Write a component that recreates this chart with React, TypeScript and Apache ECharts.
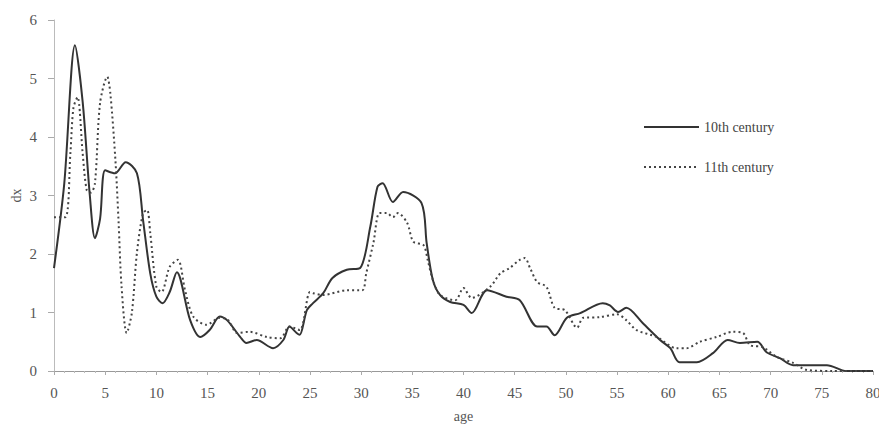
import React, { useEffect, useRef } from "react";
import * as echarts from "echarts";

const ages10 = [0, 1, 2.05, 2.8, 3.5, 4.0, 4.5, 5.0, 5.95, 7.0, 8.1, 8.7, 9.4, 10.0, 10.6, 11.3, 12.0, 13.3, 14.3, 15.2, 16.2, 16.9, 18.2, 18.8, 19.8, 21.4, 22.4, 23.0, 23.7, 24.0, 24.7, 25.3, 26.3, 27.2, 28.6, 29.9, 30.9, 31.6, 32.1, 33.1, 34.1, 35.9, 36.4, 37.0, 37.7, 38.7, 40.0, 40.8, 42.3, 44.2, 45.5, 47.2, 48.1, 48.9, 50.1, 51.4, 53.6, 54.3, 55.1, 55.9, 57.5, 59.2, 60.2, 61.1, 62.8, 64.4, 65.8, 67.0, 68.7, 69.6, 70.9, 72.2, 75.5, 77.4, 80];
const dx10 = [1.76, 3.2, 5.57, 4.6, 3.0, 2.27, 2.6, 3.43, 3.38, 3.57, 3.38, 2.58, 1.67, 1.27, 1.16, 1.35, 1.69, 0.87, 0.58, 0.7, 0.93, 0.87, 0.58, 0.48, 0.53, 0.39, 0.53, 0.76, 0.65, 0.62, 1.04, 1.16, 1.33, 1.59, 1.73, 1.76, 2.47, 3.15, 3.21, 2.89, 3.06, 2.87, 2.19, 1.56, 1.3, 1.18, 1.13, 0.99, 1.38, 1.27, 1.21, 0.76, 0.76, 0.61, 0.91, 0.99, 1.16, 1.12, 1.01, 1.08, 0.82, 0.53, 0.39, 0.15, 0.15, 0.31, 0.53, 0.48, 0.5, 0.32, 0.22, 0.1, 0.1, 0, 0];

const ages11 = [0, 1.1, 1.6, 1.9, 2.3, 2.8, 3.2, 3.6, 4.0, 4.5, 5.2, 5.5, 6.0, 6.3, 6.6, 7.1, 7.6, 8.1, 8.7, 9.1, 9.4, 10.0, 10.5, 11.3, 12.1, 12.8, 13.6, 14.9, 16.2, 17.0, 17.9, 19.1, 20.8, 22.1, 23.0, 24.0, 25.0, 25.3, 26.3, 28.6, 30.1, 30.5, 31.2, 31.8, 32.5, 33.1, 33.6, 34.5, 35.1, 36.1, 36.5, 37.0, 37.7, 39.2, 40.0, 40.8, 42.6, 43.6, 44.5, 45.5, 46.0, 46.5, 47.2, 48.1, 48.9, 49.9, 51.1, 51.7, 53.3, 55.0, 55.9, 56.9, 58.9, 60.8, 61.8, 63.1, 64.7, 66.3, 67.3, 68.0, 69.2, 70.6, 72.2, 73.5, 76.1, 80];
const dx11 = [2.63, 2.63, 3.72, 4.5, 4.68, 3.72, 3.09, 3.05, 3.21, 4.58, 5.03, 4.75, 3.6, 2.58, 1.44, 0.65, 0.99, 2.02, 2.7, 2.75, 2.36, 1.44, 1.35, 1.78, 1.9, 1.38, 0.93, 0.79, 0.91, 0.87, 0.65, 0.67, 0.58, 0.56, 0.76, 0.7, 1.35, 1.33, 1.3, 1.38, 1.38, 1.67, 2.19, 2.7, 2.7, 2.63, 2.7, 2.53, 2.21, 2.15, 1.9, 1.56, 1.3, 1.21, 1.42, 1.25, 1.44, 1.67, 1.76, 1.9, 1.93, 1.76, 1.52, 1.44, 1.08, 1.04, 0.74, 0.91, 0.92, 0.97, 0.87, 0.7, 0.58, 0.39, 0.39, 0.5, 0.58, 0.67, 0.65, 0.44, 0.41, 0.24, 0.14, 0.02, 0, 0];

const seriesNames = ["10th century", "11th century"];
const xTicks = [0, 5, 10, 15, 20, 25, 30, 35, 40, 45, 50, 55, 60, 65, 70, 75, 80];
const yTicks = [0, 1, 2, 3, 4, 5, 6];

const FONT = "Liberation Serif";

export default function App() {
  const ref = useRef<HTMLDivElement>(null);
  useEffect(() => {
    if (!ref.current) return;
    const chart = echarts.init(ref.current, null, { renderer: "svg" });
    const pairs = (xs: number[], ys: number[]) => xs.map((x, i) => [x, ys[i]]);
    chart.setOption({
      animation: false,
      backgroundColor: "#fff",
      grid: { left: 46, right: 6, top: 12, bottom: 58, outerBoundsMode: "none", containLabel: false },
      legend: {
        orient: "vertical",
        left: 630,
        top: 107,
        itemWidth: 55,
        itemHeight: 10,
        itemGap: 26,
        itemStyle: { color: "transparent", borderWidth: 0, opacity: 0 },
        textStyle: { fontFamily: FONT, fontSize: 14, color: "#444" },
        data: seriesNames,
      },
      xAxis: {
        type: "value",
        min: xTicks[0],
        max: xTicks[xTicks.length - 1],
        interval: 5,
        name: "age",
        nameLocation: "middle",
        nameGap: 38,
        nameMoveOverlap: false,
        nameTextStyle: { fontFamily: FONT, fontSize: 14, color: "#555" },
        axisLine: { lineStyle: { color: "#999", width: 1 } },
        axisTick: { show: true, length: 4, lineStyle: { color: "#aaa" } },
        minorTick: { show: true, splitNumber: 5, length: 2, lineStyle: { color: "#bbb" } },
        splitLine: { show: false },
        axisLabel: { fontFamily: FONT, fontSize: 15, color: "#555", margin: 14 },
      },
      yAxis: {
        type: "value",
        min: yTicks[0],
        max: yTicks[yTicks.length - 1],
        interval: 1,
        name: "dx",
        nameLocation: "middle",
        nameGap: 31,
        nameMoveOverlap: false,
        nameRotate: 90,
        nameTextStyle: { fontFamily: FONT, fontSize: 14, color: "#555" },
        axisLine: { show: true, lineStyle: { color: "#bbb", width: 1 } },
        axisTick: { show: true, length: 6, lineStyle: { color: "#aaa" } },
        splitLine: { show: false },
        axisLabel: { fontFamily: FONT, fontSize: 15, color: "#555", margin: 17 },
      },
      series: [
        {
          name: seriesNames[0],
          type: "line",
          data: pairs(ages10, dx10),
          smooth: 0.3,
          symbol: "none",
          lineStyle: { color: "#333", width: 2 },
          itemStyle: { color: "#333" },
        },
        {
          name: seriesNames[1],
          type: "line",
          data: pairs(ages11, dx11),
          smooth: 0.3,
          symbol: "none",
          lineStyle: { color: "#444", width: 2, type: [2, 3] },
          itemStyle: { color: "#444" },
        },
      ],
    });
    return () => chart.dispose();
  }, []);
  return <div ref={ref} style={{ width: 871, height: 421 }} />;
}
